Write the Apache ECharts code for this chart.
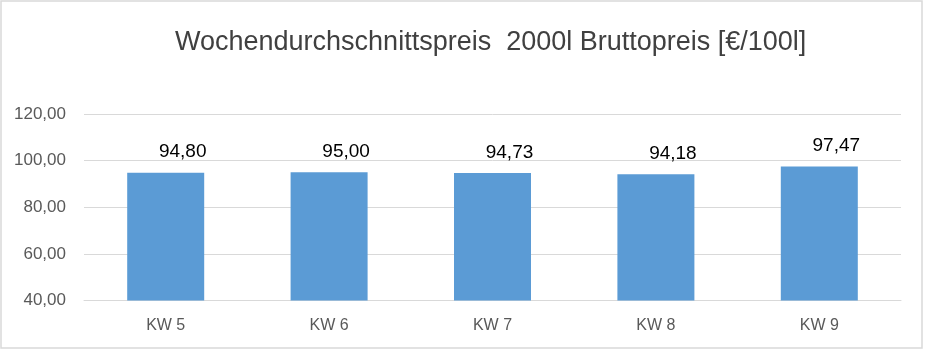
<!DOCTYPE html>
<html>
<head>
<meta charset="utf-8">
<script src="https://cdn.jsdelivr.net/npm/echarts@6/dist/echarts.min.js"></script>
<style>html,body{margin:0;padding:0;background:#fff;}#c{width:925px;height:350px;}</style>
</head>
<body>
<div id="c"></div>
<script>
var categories = ['KW 5', 'KW 6', 'KW 7', 'KW 8', 'KW 9'];
var values = [94.80, 95.00, 94.73, 94.18, 97.47];
var yMin = 40, yMax = 120, yStep = 20;
var titleText = 'Wochendurchschnittspreis  2000l Bruttopreis [€/100l]';

function fmt(v) { return Number(v).toFixed(2).replace('.', ','); }

var chart = echarts.init(document.getElementById('c'), null, {renderer: 'canvas'});
var font = '"Liberation Sans", Arial, sans-serif';
chart.setOption({
  animation: false,
  backgroundColor: '#ffffff',
  title: {
    text: titleText,
    left: 170,
    top: 24,
    textStyle: {fontFamily: font, fontSize: 27, fontWeight: 'normal', color: '#404040'}
  },
  grid: {left: 84, right: 24, top: 114, bottom: 49.5, containLabel: false},
  xAxis: {
    type: 'category',
    data: categories,
    axisLine: {show: true, lineStyle: {color: '#d9d9d9', width: 1}},
    axisTick: {show: false},
    axisLabel: {color: '#595959', fontFamily: font, fontSize: 16, margin: 17}
  },
  yAxis: {
    type: 'value',
    min: yMin, max: yMax, interval: yStep,
    axisLine: {show: false},
    axisTick: {show: false},
    splitLine: {lineStyle: {color: '#d9d9d9', width: 1}},
    axisLabel: {color: '#595959', fontFamily: font, fontSize: 17, margin: 18, formatter: fmt}
  },
  series: [{
    type: 'bar',
    data: values,
    barWidth: 77,
    itemStyle: {color: '#5b9bd5'},
    label: {show: true, position: 'top', distance: 11, offset: [17, 0], color: '#000000', fontFamily: font, fontSize: 19, formatter: function(p){return fmt(p.value);}}
  }],
  graphic: [{
    type: 'rect',
    shape: {x: 1, y: 1, width: 921, height: 347},
    style: {fill: null, stroke: '#d9d9d9', lineWidth: 1.5},
    silent: true
  }]
});
</script>
</body>
</html>
